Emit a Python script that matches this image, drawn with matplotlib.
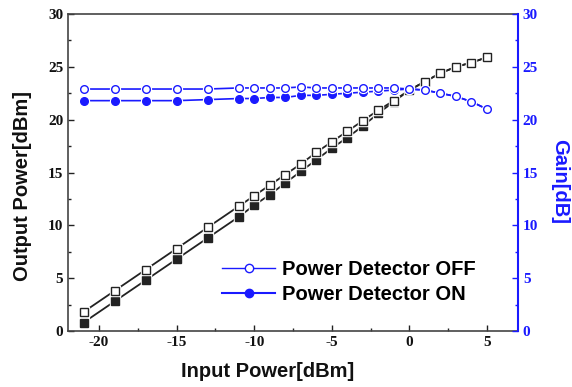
import matplotlib
matplotlib.use("Agg")
import matplotlib.pyplot as plt
from matplotlib.ticker import MultipleLocator

plt.rcParams["axes.unicode_minus"] = False

# ---- data ----
pin = [-21, -19, -17, -15, -13, -11, -10, -9, -8, -7, -6, -5, -4, -3, -2, -1, 0, 1, 2, 3, 4, 5]
pout_off = [1.8, 3.8, 5.8, 7.8, 9.8, 11.8, 12.8, 13.8, 14.8, 15.8, 16.9, 17.9, 18.9, 19.9, 20.9, 21.8,
            22.8, 23.6, 24.4, 25.0, 25.4, 25.9]
pout_on = [0.8, 2.8, 4.8, 6.8, 8.8, 10.8, 11.9, 12.9, 14.0, 15.1, 16.2, 17.3, 18.3, 19.4, 20.6, 21.7,
           22.8, 23.6, 24.4, 25.0, 25.4, 25.9]
gain_off = [22.9, 22.9, 22.9, 22.9, 22.9, 23.0, 23.0, 23.0, 23.0, 23.1, 23.0, 23.0, 23.0, 23.0, 23.0, 23.0,
            22.9, 22.8, 22.5, 22.2, 21.7, 21.0]
gain_on = [21.8, 21.8, 21.8, 21.8, 21.9, 22.0, 22.0, 22.1, 22.1, 22.3, 22.3, 22.4, 22.5, 22.6, 22.7, 22.8,
           22.9, 22.8, 22.5, 22.2, 21.7, 21.0]
xlabel = "Input Power[dBm]"
ylabel_left = "Output Power[dBm]"
ylabel_right = "Gain[dB]"
legend_labels = ["Power Detector OFF", "Power Detector ON"]

BLUE = "#1a1aff"
DARK = "#222222"
SANS = "Liberation Sans"
SERIF = "Liberation Serif"

fig = plt.figure(figsize=(5.72, 3.87), dpi=100)
ax = fig.add_axes([68 / 572, 1 - 331 / 387, 450 / 572, 317 / 387])
ax2 = ax.twinx()


def series(a, x, y, color, marker, face, ms, lw, z):
    a.plot(x, y, color=color, lw=lw, zorder=z)
    a.plot(x, y, ls="none", marker=marker, ms=ms + 1.6, mfc="white", mec="white", zorder=z + 0.1)
    a.plot(x, y, ls="none", marker=marker, ms=ms, mfc=face, mec=color, mew=1.0, zorder=z + 0.2)


series(ax, pin, pout_on, DARK, "s", DARK, 5.2, 1.3, 2)
series(ax, pin, pout_off, DARK, "s", "white", 5.2, 1.3, 3)
series(ax2, pin, gain_on, BLUE, "o", BLUE, 5.5, 1.2, 2)
series(ax2, pin, gain_off, BLUE, "o", "white", 5.5, 1.2, 3)

ax.set_xlim(-22, 7)
ax.set_ylim(0, 30)
ax2.set_ylim(0, 30)

for a in (ax, ax2):
    a.xaxis.set_major_locator(MultipleLocator(5))
    a.xaxis.set_minor_locator(MultipleLocator(2.5))
    a.yaxis.set_major_locator(MultipleLocator(5))
    a.yaxis.set_minor_locator(MultipleLocator(2.5))

ax.tick_params(axis="both", which="both", direction="in", top=False, right=False, color=DARK)
ax.tick_params(which="major", length=4, width=1)
ax.tick_params(which="minor", length=2.5, width=1)
ax2.tick_params(axis="y", which="both", direction="in", colors=BLUE)
ax2.tick_params(axis="y", which="major", length=4, width=1)
ax2.tick_params(axis="y", which="minor", length=2.5, width=1)

for sp in ["left", "bottom", "top"]:
    ax.spines[sp].set_color("#444444")
    ax.spines[sp].set_linewidth(1.2)
ax2.spines["right"].set_color(BLUE)
ax2.spines["right"].set_linewidth(1.5)
for sp in ["left", "bottom", "top"]:
    ax2.spines[sp].set_visible(False)
ax.spines["right"].set_visible(False)

for lab in ax.get_xticklabels() + ax.get_yticklabels():
    lab.set_fontfamily(SERIF)
    lab.set_fontweight("bold")
    lab.set_fontsize(11)
    lab.set_color("#111111")
for lab in ax2.get_yticklabels():
    lab.set_fontfamily(SERIF)
    lab.set_fontweight("bold")
    lab.set_fontsize(11)
    lab.set_color(BLUE)

ax.set_xlabel(xlabel, fontfamily=SANS, fontweight="bold", fontsize=14.5, color="#111111", va="center")
ax.xaxis.set_label_coords(0.444, -0.129)
ax.set_ylabel(ylabel_left, fontfamily=SANS, fontweight="bold", fontsize=14.5, color="#111111", va="center")
ax.yaxis.set_label_coords(-0.102, 0.457)
ax2.set_ylabel(ylabel_right, fontfamily=SANS, fontweight="bold", fontsize=14.5, color=BLUE,
               rotation=270, va="center")
ax2.yaxis.set_label_coords(1.093, 0.473)

h_off = ax2.plot([], [], color=BLUE, lw=1.0, marker="o", ms=6, mfc="white", mec=BLUE)[0]
h_on = ax2.plot([], [], color=BLUE, lw=1.5, marker="o", ms=6, mfc=BLUE, mec=BLUE)[0]
fig.legend([h_off, h_on], legend_labels, loc="upper left", bbox_to_anchor=(222 / 572, 1 - 260 / 387),
           frameon=False, borderpad=0, borderaxespad=0, handlelength=2.65, handletextpad=0.35,
           labelspacing=0.3, prop={"family": SANS, "weight": "bold", "size": 14.5})

fig.savefig("out.png", dpi=100)
